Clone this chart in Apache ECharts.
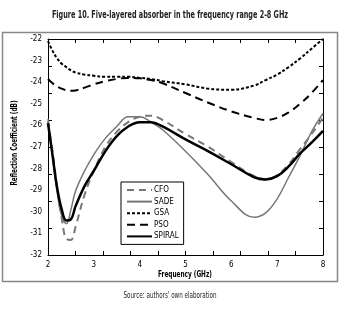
<!DOCTYPE html>
<html>
<head>
<meta charset="utf-8">
<script src="https://cdn.jsdelivr.net/npm/echarts@6/dist/echarts.min.js"></script>
<style>
  html, body { margin: 0; padding: 0; background: #fff; }
  #chart { width: 340px; height: 309px; }
</style>
</head>
<body>
<div id="chart"></div>
<script>
// frequency (GHz) shared by all curves
const freq = [2, 2.1, 2.2, 2.3, 2.4, 2.5, 2.6, 2.8, 3, 3.25, 3.5, 3.75, 4, 4.25, 4.5, 5, 5.5, 6, 6.5, 6.75, 7, 7.25, 7.5, 7.75, 8];

const cfo    = [-25.8, -27.2, -28.9, -30.3, -31.25, -31.3, -30.7, -29.2, -28.1, -27.0, -26.3, -25.85, -25.6, -25.55, -25.75, -26.4, -27.0, -27.7, -28.35, -28.5, -28.3, -27.8, -27.1, -26.4, -25.65];
const sade   = [-25.7, -27.5, -29.1, -30.2, -30.55, -29.9, -29.05, -28.1, -27.35, -26.6, -26.05, -25.6, -25.6, -25.85, -26.2, -27.2, -28.3, -29.5, -30.25, -30.05, -29.4, -28.4, -27.4, -26.3, -25.45];
const gsa    = [-22.1, -22.55, -22.9, -23.15, -23.3, -23.45, -23.55, -23.65, -23.7, -23.75, -23.75, -23.75, -23.8, -23.85, -23.95, -24.1, -24.3, -24.35, -24.15, -23.9, -23.65, -23.3, -22.9, -22.45, -22.0];
const pso    = [-23.85, -24.05, -24.2, -24.3, -24.38, -24.4, -24.38, -24.25, -24.1, -23.95, -23.85, -23.8, -23.82, -23.9, -24.05, -24.5, -24.95, -25.35, -25.65, -25.75, -25.65, -25.4, -25.0, -24.5, -23.9];
const spiral = [-25.9, -27.4, -28.9, -29.9, -30.4, -30.35, -29.75, -28.8, -28.1, -27.2, -26.5, -26.05, -25.85, -25.85, -26.05, -26.65, -27.2, -27.8, -28.4, -28.5, -28.35, -27.9, -27.3, -26.8, -26.25];

const xLabels = [2, 3, 4, 5, 6, 7, 8];
const xTicks = [2.6, 3.2, 3.8, 4.4, 5, 5.6, 6.2, 6.8, 7.4];
const yLabels = [-22, -23, -24, -25, -26, -27, -28, -29, -30, -31, -32];
const yTicks = [-23.25, -24.5, -25.75, -27, -28.25, -29.5, -30.75];

const FONT = '"DejaVu Sans Condensed", "Liberation Sans Narrow", "DejaVu Sans", sans-serif';

const pair = ys => freq.map((f, i) => [f, ys[i]]);

const chart = echarts.init(document.getElementById('chart'));

const xBase = (pos, show) => ({
  type: 'value', min: 2, max: 8, position: pos,
  axisLine: { show: true, onZero: false, lineStyle: { color: '#000', width: 1 } },
  axisTick: { show: true, inside: true, length: 4, customValues: xTicks, lineStyle: { color: '#000' } },
  axisLabel: { show: show, customValues: xLabels, fontFamily: FONT, fontSize: 8, color: '#000', margin: 6 },
  splitLine: { show: false }
});
const yBase = (pos, show) => ({
  type: 'value', min: -32, max: -22, position: pos,
  axisLine: { show: true, onZero: false, lineStyle: { color: '#000', width: 1 } },
  axisTick: { show: true, inside: true, length: 4, customValues: yTicks, lineStyle: { color: '#000' } },
  axisLabel: { show: show, customValues: yLabels, fontFamily: FONT, fontSize: 8, color: '#000', margin: 6 },
  splitLine: { show: false }
});

const line = (name, data, color, width, type) => ({
  name: name, type: 'line', data: pair(data), smooth: 0.4,
  showSymbol: false, symbol: 'none', animation: false,
  lineStyle: { color: color, width: width, type: type },
  itemStyle: { color: color }
});

chart.setOption({
  animation: false,
  textStyle: { fontFamily: FONT },
  graphic: [
    { type: 'rect', shape: { x: 2.5, y: 32.5, width: 335, height: 249 }, style: { fill: 'none', stroke: '#888', lineWidth: 1.5 }, z: -1 },
    { type: 'text', x: 170, y: 15, scaleX: 0.72,
      style: { text: 'Figure 10. Five-layered absorber in the frequency range 2-8 GHz', fontFamily: FONT, fontSize: 10, fontWeight: 'bold', fill: '#222', align: 'center', verticalAlign: 'middle' } },
    { type: 'text', x: 170, y: 296, scaleX: 0.78,
      style: { text: 'Source: authors\' own elaboration', fontFamily: FONT, fontSize: 8, fill: '#222', align: 'center', verticalAlign: 'middle' } },
    { type: 'text', x: 15, y: 143, rotation: Math.PI / 2, scaleX: 0.8,
      style: { text: 'Reflection Coefficient (dB)', fontFamily: FONT, fontSize: 8, fontWeight: 'bold', fill: '#000', align: 'center', verticalAlign: 'middle' } },
    { type: 'text', x: 185, y: 275, scaleX: 0.8,
      style: { text: 'Frequency (GHz)', fontFamily: FONT, fontSize: 8, fontWeight: 'bold', fill: '#000', align: 'center', verticalAlign: 'middle' } }
  ],
  grid: { left: 48, top: 39, right: 17, bottom: 54 },
  xAxis: [xBase('bottom', true), xBase('top', false)],
  yAxis: [yBase('left', true), yBase('right', false)],
  legend: {
    orient: 'vertical', left: 121, top: 182,
    itemWidth: 25, itemHeight: 8, itemGap: 3.6,
    padding: [4, 5, 4, 5],
    borderColor: '#000', borderWidth: 1,
    itemStyle: { opacity: 0 },
    textStyle: { fontFamily: FONT, fontSize: 8, color: '#000', padding: [0, 0, 0, -3] },
    data: ['CFO', 'SADE', 'GSA', 'PSO', 'SPIRAL']
  },
  series: [
    line('CFO', cfo, '#777', 2, [7, 5]),
    line('SADE', sade, '#777', 1.5, 'solid'),
    line('GSA', gsa, '#000', 2, [3, 2]),
    line('PSO', pso, '#000', 2, [8, 5]),
    line('SPIRAL', spiral, '#000', 2.5, 'solid')
  ]
});
</script>
</body>
</html>
